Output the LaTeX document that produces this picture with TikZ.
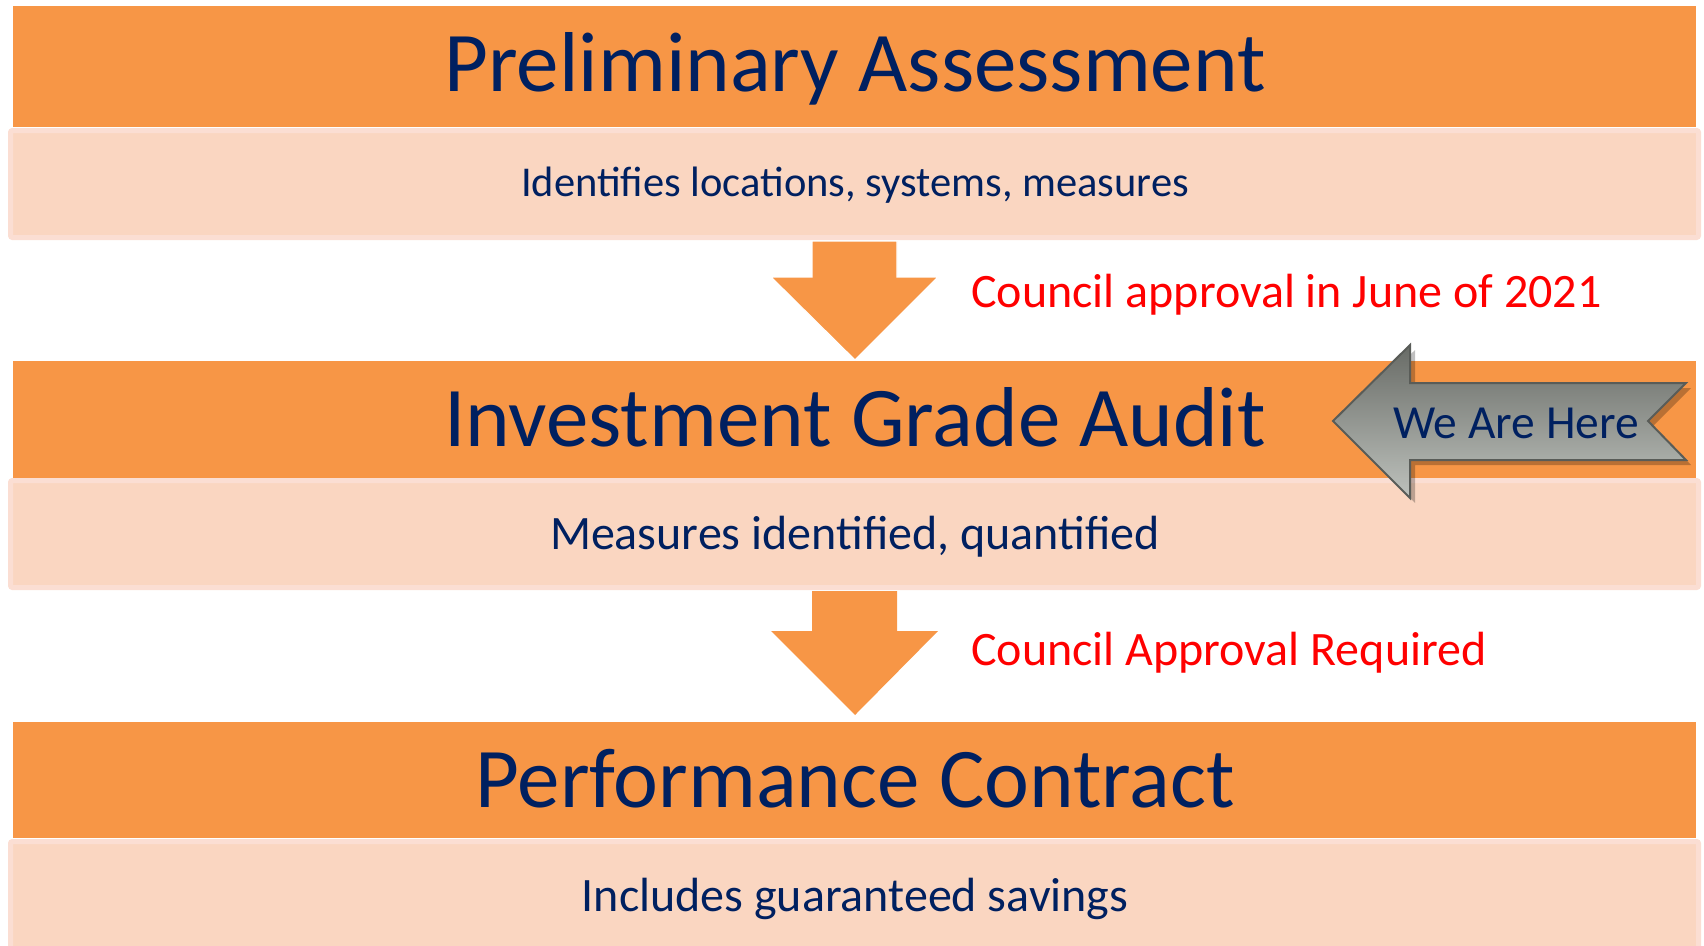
\documentclass[tikz,border=0pt]{standalone}
\usepackage{fontspec}
\setmainfont{Carlito}
\usetikzlibrary{shadings}
\definecolor{band}{HTML}{F79646}
\definecolor{pale}{HTML}{FAD6C1}
\definecolor{paleedge}{HTML}{FBDED3}
\definecolor{navy}{HTML}{002060}
\definecolor{redtxt}{HTML}{FF0000}
\definecolor{gtop}{HTML}{686B66}
\definecolor{gbot}{HTML}{BEC2BD}
\definecolor{gedge}{HTML}{595C58}
\tikzset{
  titletext/.style={text=navy, font=\fontsize{85}{92}\selectfont, anchor=base, inner sep=0pt},
  subtext/.style={text=navy, font=\fontsize{42.5}{48}\selectfont, anchor=base, inner sep=0pt},
  bigsubtext/.style={subtext, font=\fontsize{48}{54}\selectfont},
  notetext/.style={text=redtxt, font=\fontsize{48}{54}\selectfont, anchor=base west, inner sep=0pt},
  orangeband/.style={fill=band, draw=none},
  palebox/.style={fill=pale, draw=paleedge, line width=5pt, rounded corners=2pt},
  downarrow/.style={fill=band, draw=white, line width=1.2pt, line join=miter}
}
\begin{document}
\begin{tikzpicture}[x=1pt,y=-1pt]
\useasboundingbox (0,0) rectangle (1704,945);
% band 1
\fill[orangeband] (13,6) rectangle (1696,127);
\draw[palebox] (10.5,130.5) rectangle (1698.5,237.5);
% band 2
\fill[orangeband] (13,361) rectangle (1696,478);
\draw[palebox] (10.5,480.5) rectangle (1698.5,587.5);
% band 3
\fill[orangeband] (13,722) rectangle (1696,838);
\draw[palebox] (10.5,841.5) rectangle (1698.5,950);
% down arrows
\draw[downarrow] (812,241) -- (897,241) -- (897,277) -- (938,277) -- (855,360) -- (771,277) -- (812,277) -- cycle;
\fill[band] (812,591) -- (897,591) -- (897,631) -- (938,631) -- (855,715) -- (771,631) -- (812,631) -- cycle;
% texts
\node[titletext] (t1) at (855,91) {Preliminary Assessment};
\node[subtext] (s1) at (855,196) {Identifies locations, systems, measures};
\node[notetext] (n1) at (971,307) {Council approval in June of 2021};
\node[titletext] (t2) at (855,446) {Investment Grade Audit};
\node[bigsubtext] (s2) at (855,549) {Measures identified, quantified};
\node[notetext] (n2) at (971,665) {Council Approval Required};
\node[titletext] (t3) at (855,807) {Performance Contract};
\node[bigsubtext] (s3) at (855,911) {Includes guaranteed savings};
% we are here arrow
\fill[black, opacity=0.25] (1338,426) -- (1415,350) -- (1415,388) -- (1691,388) -- (1653,426) -- (1691,465) -- (1415,465) -- (1415,503) -- cycle;
\draw[gedge, line width=2pt, top color=gtop, bottom color=gbot, line join=miter]
  (1333,421) -- (1410,345) -- (1410,383) -- (1686,383) -- (1648,421) -- (1686,460) -- (1410,460) -- (1410,498) -- cycle;
\node[text=navy, font=\fontsize{47.5}{52}\selectfont, anchor=base, inner sep=0pt] (here) at (1516,438) {We Are Here};
\end{tikzpicture}
\end{document}
